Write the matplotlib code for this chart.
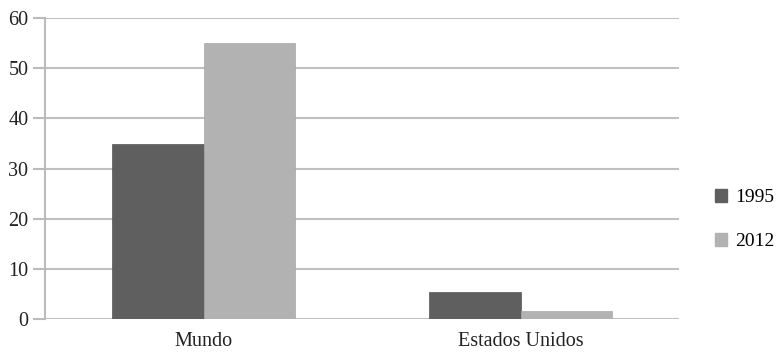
import matplotlib.pyplot as plt
import numpy as np
from matplotlib.patches import Patch

categories = ['Mundo', 'Estados Unidos']
years = ['1995', '2012']
values_1995 = [34.8, 5.4]
values_2012 = [55.1, 1.6]
colors = ['#5f5f5f', '#b2b2b2']

plt.rcParams['font.family'] = ['Liberation Serif', 'DejaVu Serif']

fig = plt.figure(figsize=(7.79, 3.54), dpi=100)
ax = fig.add_axes([45 / 779, 1 - 319 / 354, 634 / 779, 301 / 354])

x = np.arange(len(categories))
w = 0.29
ax.bar(x - w / 2, values_1995, w, color=colors[0], edgecolor='#555555', lw=0.5, zorder=3)
ax.bar(x + w / 2, values_2012, w, color=colors[1], edgecolor='#a8a8a8', lw=0.5, zorder=3)

ax.set_xlim(-0.5, 1.5)
ax.set_ylim(0, 60)
ax.set_yticks(range(0, 61, 10))
ax.set_xticks(x)
ax.set_xticklabels(categories, fontsize=14.5, color='#222222')
ax.tick_params(axis='x', length=0, pad=9)
ax.tick_params(axis='y', length=9, width=1.5, color='#bbbbbb', labelsize=14.5,
               labelcolor='#222222', pad=3)
ax.grid(axis='y', color='#c0c0c0', lw=1.5, zorder=0)
for s in ['top', 'right', 'bottom']:
    ax.spines[s].set_visible(False)
ax.spines['left'].set_color('#bbbbbb')
ax.spines['left'].set_linewidth(1.5)

handles = [Patch(color=c) for c in colors]
fig.legend(handles, years, loc='center left', bbox_to_anchor=(705 / 779, 0.38),
           frameon=False, fontsize=14, borderpad=0, handlelength=0.65,
           handleheight=0.65, handletextpad=0.4, labelspacing=1.35)

fig.savefig('out.png', dpi=100)
